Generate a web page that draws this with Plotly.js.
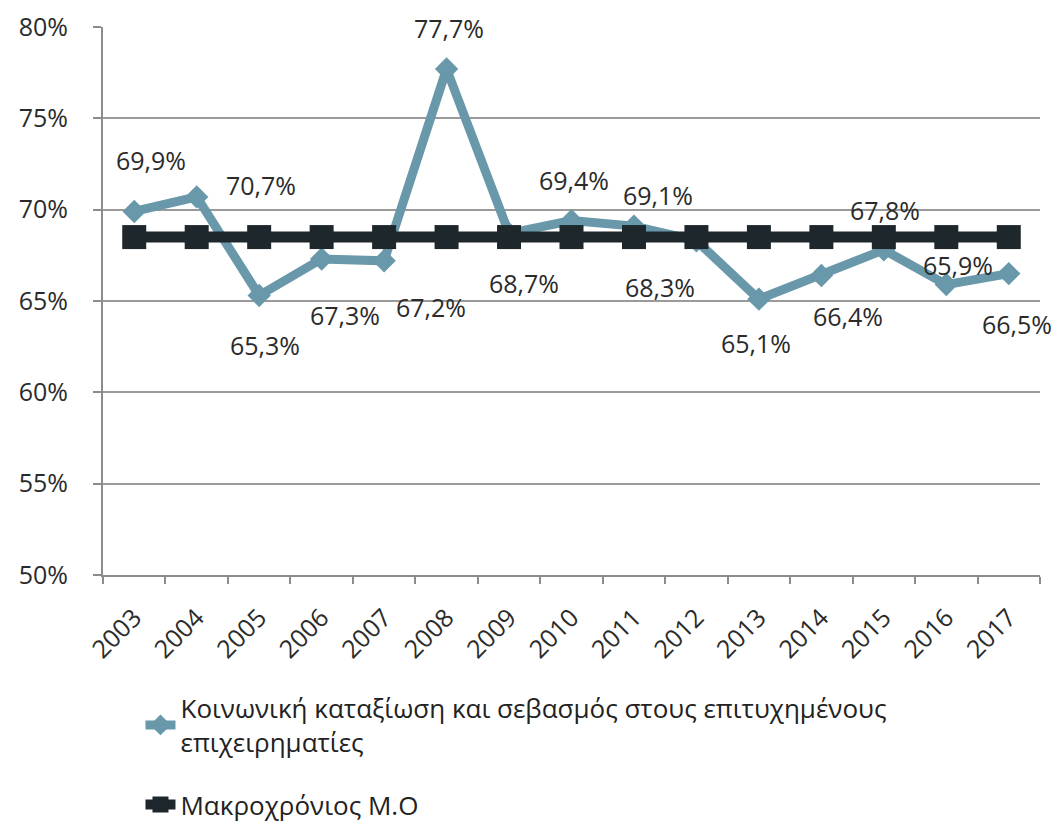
<!DOCTYPE html>
<html>
<head>
<meta charset="utf-8">
<script src="https://cdn.plot.ly/plotly-3.0.1.min.js"></script>
<style>html,body{margin:0;padding:0;background:#fff;}</style>
</head>
<body>
<div id="chart" style="width:1061px;height:833px;"></div>
<script>
// ---- data ----
var years = ["2003","2004","2005","2006","2007","2008","2009","2010","2011","2012","2013","2014","2015","2016","2017"];
var respectValues = [69.9, 70.7, 65.3, 67.3, 67.2, 77.7, 68.7, 69.4, 69.1, 68.3, 65.1, 66.4, 67.8, 65.9, 66.5];
var longTermAvg = [68.5, 68.5, 68.5, 68.5, 68.5, 68.5, 68.5, 68.5, 68.5, 68.5, 68.5, 68.5, 68.5, 68.5, 68.5];
var seriesNames = ["Κοινωνική καταξίωση και σεβασμός στους επιτυχημένους<br>επιχειρηματίες", "Μακροχρόνιος Μ.Ο"];
var yTickVals = [50, 55, 60, 65, 70, 75, 80];
var yTickText = ["50%", "55%", "60%", "65%", "70%", "75%", "80%"];
var valueLabels = ["69,9%", "70,7%", "65,3%", "67,3%", "67,2%", "77,7%", "68,7%", "69,4%", "69,1%", "68,3%", "65,1%", "66,4%", "67,8%", "65,9%", "66,5%"];

// ---- label placement (pixel offsets, styling only) ----
var labelShiftX = [17, 64, 6, 23, 47, 2, 15, 2, 24, -36, -3, 27, 1, 12, 8];
var labelShiftY = [51, 12, -49, -56, -46, 41, -50, 41, 31, -46, -44, -41, 40, 20, -50];

var FONT = "Open Sans";
var blue = "#6898aa";
var dark = "#1e272c";
var textColor = "#2b2b2b";

var traces = [
  {
    x: years, y: respectValues, name: seriesNames[0], type: "scatter", mode: "lines+markers",
    legendgroup: "resp",
    line: {color: blue, width: 9},
    marker: {symbol: "diamond", size: 18, color: blue},
    hoverinfo: "skip"
  },
  {
    x: years, y: longTermAvg, name: seriesNames[1], type: "scatter", mode: "lines+markers",
    legendgroup: "avg",
    line: {color: dark, width: 11},
    marker: {symbol: "square", size: 24, color: dark},
    hoverinfo: "skip"
  }
];

var annotations = [];
for (var i = 0; i < years.length; i++) {
  annotations.push({
    x: i, y: respectValues[i], xref: "x", yref: "y",
    text: valueLabels[i],
    showarrow: false, xshift: labelShiftX[i], yshift: labelShiftY[i],
    font: {family: FONT, size: 25, color: textColor}
  });
}

var layout = {
  width: 1061, height: 833,
  margin: {l: 103, r: 21, t: 27, b: 258, autoexpand: false},
  paper_bgcolor: "#ffffff", plot_bgcolor: "#ffffff",
  font: {family: FONT, size: 25, color: textColor},
  showlegend: true,
  legend: {
    x: 0.04, xanchor: "left", y: -0.2, yanchor: "top",
    traceorder: "grouped",
    font: {family: FONT, size: 26, color: "#222222"},
    bgcolor: "rgba(0,0,0,0)",
    tracegroupgap: 26
  },
  xaxis: {
    type: "category", range: [-0.5, 14.5], tickson: "boundaries",
    ticks: "outside", ticklen: 7, tickwidth: 2, tickcolor: "#8c8c8c",
    showline: true, linecolor: "#8c8c8c", linewidth: 2,
    showgrid: false, tickangle: -45, ticklabelstandoff: 16,
    tickfont: {family: FONT, size: 25, color: textColor}
  },
  yaxis: {
    range: [50, 80], tickmode: "array", tickvals: yTickVals, ticktext: yTickText,
    ticks: "outside", ticklen: 8, tickwidth: 2, tickcolor: "#8c8c8c",
    showline: true, linecolor: "#8c8c8c", linewidth: 2,
    showgrid: true, gridcolor: "#9a9a9a", gridwidth: 2, zeroline: false,
    ticklabelstandoff: 20,
    tickfont: {family: FONT, size: 25, color: textColor}
  },
  annotations: annotations
};

Plotly.newPlot("chart", traces, layout, {displayModeBar: false});
</script>
</body>
</html>
